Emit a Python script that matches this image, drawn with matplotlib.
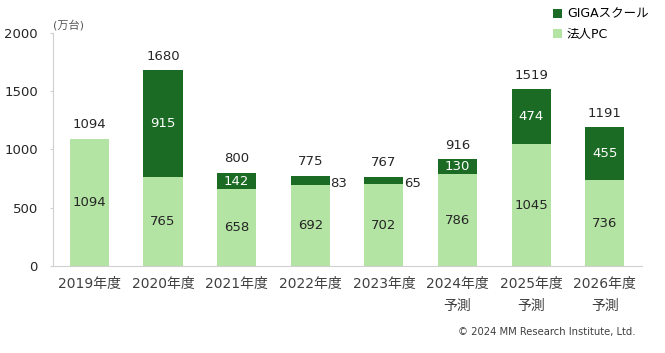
import numpy as np
import matplotlib.pyplot as plt

plt.rcParams['font.family'] = ['DejaVu Sans', 'Noto Sans CJK JP']

years = ["2019年度", "2020年度", "2021年度", "2022年度", "2023年度",
         "2024年度\n予測", "2025年度\n予測", "2026年度\n予測"]
hojin_pc = [1094, 765, 658, 692, 702, 786, 1045, 736]
giga = [0, 915, 142, 83, 65, 130, 474, 455]
totals = [1094, 1680, 800, 775, 767, 916, 1519, 1191]

light = "#b3e4a3"
dark = "#1b6b24"

fig = plt.figure(figsize=(6.65, 3.53), dpi=100)
ax = fig.add_axes([0.079, 0.2465, 0.886, 0.66])

x = np.arange(len(years))
w = 0.53
ax.bar(x, hojin_pc, w, color=light, label="法人PC", zorder=2)
ax.bar(x, giga, w, bottom=hojin_pc, color=dark, label="GIGAスクール", zorder=2)

fs = 9.5
for i in range(len(years)):
    ax.text(x[i], hojin_pc[i] / 2, str(hojin_pc[i]), ha="center", va="center",
            fontsize=fs, color="#262626")
    if giga[i] > 0:
        mid = hojin_pc[i] + giga[i] / 2
        if giga[i] < 100:
            ax.text(x[i] + w / 2 + 0.005, mid - 25, str(giga[i]), ha="left",
                    va="center", fontsize=fs, color="#262626")
        else:
            ax.text(x[i], mid, str(giga[i]), ha="center", va="center",
                    fontsize=fs, color="white")
    ax.text(x[i], totals[i] + 120, str(totals[i]), ha="center", va="center",
            fontsize=fs, color="#262626")

ax.set_xlim(-0.5, 7.5)
ax.set_ylim(0, 2000)
ax.set_yticks([0, 500, 1000, 1500, 2000])
ax.set_xticks(x)
ax.set_xticklabels(years, fontsize=10, color="#404040", linespacing=1.7)
ax.tick_params(axis="y", labelsize=fs, colors="#262626", length=2.5,
               color="#d0d0d0", pad=8)
ax.tick_params(axis="x", length=0, pad=8)
for s in ["top", "right"]:
    ax.spines[s].set_visible(False)
ax.spines["left"].set_color("#d0d0d0")
ax.spines["bottom"].set_color("#d0d0d0")

fig.text(0.08, 0.928, "(万台)", fontsize=8, color="#595959", va="center")

h, l = ax.get_legend_handles_labels()
fig.legend(h[::-1], l[::-1], loc="upper left", bbox_to_anchor=(0.815, 1.01),
           frameon=False, fontsize=9, handlelength=0.7, handleheight=0.7,
           handletextpad=0.4, labelspacing=0.6)

fig.text(0.955, 0.06, "© 2024 MM Research Institute, Ltd.", fontsize=7.2,
         color="#404040", ha="right", va="center")

fig.savefig("out.png", dpi=100)
